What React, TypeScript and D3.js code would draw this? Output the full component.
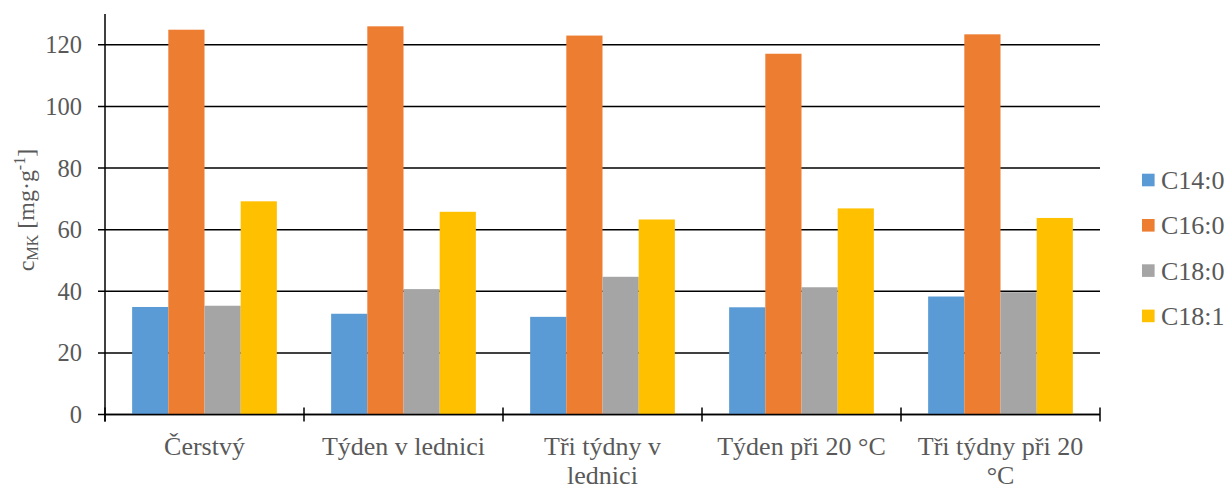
import React from "react";
import * as d3 from "d3";

const categories: string[] = [
  "Čerstvý",
  "Týden v lednici",
  "Tři týdny v lednici",
  "Týden při 20 °C",
  "Tři týdny při 20 °C",
];
const seriesNames: string[] = ["C14:0", "C16:0", "C18:0", "C18:1"];
const c14_0: number[] = [34.9, 32.7, 31.7, 34.8, 38.3];
const c16_0: number[] = [124.9, 126.0, 123.0, 117.1, 123.4];
const c18_0: number[] = [35.3, 40.7, 44.7, 41.3, 39.7];
const c18_1: number[] = [69.2, 65.8, 63.3, 66.9, 63.8];
const seriesValues: number[][] = [c14_0, c16_0, c18_0, c18_1];
const seriesColors: string[] = ["#5B9BD5", "#ED7D31", "#A5A5A5", "#FFC000"];
const yTicks: number[] = [0, 20, 40, 60, 80, 100, 120];

const W = 1229;
const H = 489;
const FONT = '"Liberation Serif", "Times New Roman", Times, "DejaVu Serif", serif';
const TEXT = "#595959";

let measureCtx: CanvasRenderingContext2D | null = null;
function textWidth(s: string, size: number): number {
  if (!measureCtx) {
    const c = document.createElement("canvas");
    measureCtx = c.getContext("2d");
  }
  if (!measureCtx) return s.length * size * 0.5;
  measureCtx.font = `${size}px ${FONT}`;
  return measureCtx.measureText(s).width;
}

function wrap(s: string, maxW: number, size: number): string[] {
  const words = s.split(" ");
  const lines: string[] = [];
  let cur = "";
  for (const w of words) {
    const t = cur ? cur + " " + w : w;
    if (cur && textWidth(t, size) > maxW) {
      lines.push(cur);
      cur = w;
    } else cur = t;
  }
  if (cur) lines.push(cur);
  return lines;
}

export default function App() {
  const left = 105;
  const right = 1100;
  const top = 14;
  const bottom = 414.5;

  const y = d3.scaleLinear().domain([0, 130]).range([bottom, top]);
  const x0 = d3.scaleBand<string>().domain(categories).range([left, right]).padding(0);
  const bw = x0.bandwidth();
  const x1 = d3
    .scaleBand<string>()
    .domain(seriesNames)
    .range([(0.75 / 5.5) * bw, (4.75 / 5.5) * bw])
    .padding(0);

  const xFont = 26;
  const yFont = 24.5;
  const ts = { fontFamily: FONT };

  return (
    <svg
      width={W}
      height={H}
      style={{ position: "absolute", left: 0, top: 0, background: "#fff", fontFamily: FONT }}
    >
      {yTicks.map((t) => (
        <line
          key={"g" + t}
          x1={left - 7}
          x2={right}
          y1={y(t)}
          y2={y(t)}
          stroke="#000"
          strokeWidth={1.5}
        />
      ))}
      {categories.map((c, i) => (
        <g key={c}>
          {seriesNames.map((s, j) => (
            <rect
              key={s}
              x={(x0(c) ?? 0) + (x1(s) ?? 0)}
              y={y(seriesValues[j][i])}
              width={x1.bandwidth()}
              height={y(0) - y(seriesValues[j][i])}
              fill={seriesColors[j]}
            />
          ))}
        </g>
      ))}
      <line x1={left} x2={right} y1={y(0)} y2={y(0)} stroke="#000" strokeWidth={1.5} />
      {[...categories.map((c) => x0(c) ?? 0), right].map((xx, i) => (
        <line
          key={"xt" + i}
          x1={xx}
          x2={xx}
          y1={y(0) - 7}
          y2={y(0) + 7}
          stroke="#000"
          strokeWidth={1.5}
        />
      ))}
      <line x1={left} x2={left} y1={top} y2={y(0) + 7} stroke="#000" strokeWidth={1.5} />
      {yTicks.map((t) => (
        <text
          key={"yl" + t}
          x={82}
          y={y(t)}
          dy="0.35em"
          textAnchor="end"
          fontSize={yFont}
          fill={TEXT}
          style={ts}
        >
          {t}
        </text>
      ))}
      {categories.map((c) => {
        const lines = wrap(c, bw * 0.9, xFont);
        const cx = (x0(c) ?? 0) + bw / 2;
        return (
          <text key={"xl" + c} x={cx} y={455} textAnchor="middle" fontSize={xFont} fill={TEXT} style={ts}>
            {lines.map((l, k) => (
              <tspan key={k} x={cx} dy={k === 0 ? 0 : 29}>
                {l}
              </tspan>
            ))}
          </text>
        );
      })}
      <text
        transform="translate(34,210) rotate(-90)"
        textAnchor="middle"
        fontSize={24}
        fill={TEXT}
        style={ts}
      >
        <tspan>c</tspan>
        <tspan fontSize={16} dy={4}>MK</tspan>
        <tspan dy={-4}> [mg·g</tspan>
        <tspan fontSize={16} dy={-9}>-1</tspan>
        <tspan dy={9}>]</tspan>
      </text>
      {seriesNames.map((s, j) => {
        const cy = 180 + j * 45.3;
        return (
          <g key={"lg" + s}>
            <rect x={1142} y={cy - 6.3} width={12.6} height={12.6} fill={seriesColors[j]} />
            <text x={1161} y={cy} dy="0.35em" fontSize={26} fill={TEXT} style={ts}>
              {s}
            </text>
          </g>
        );
      })}
    </svg>
  );
}
